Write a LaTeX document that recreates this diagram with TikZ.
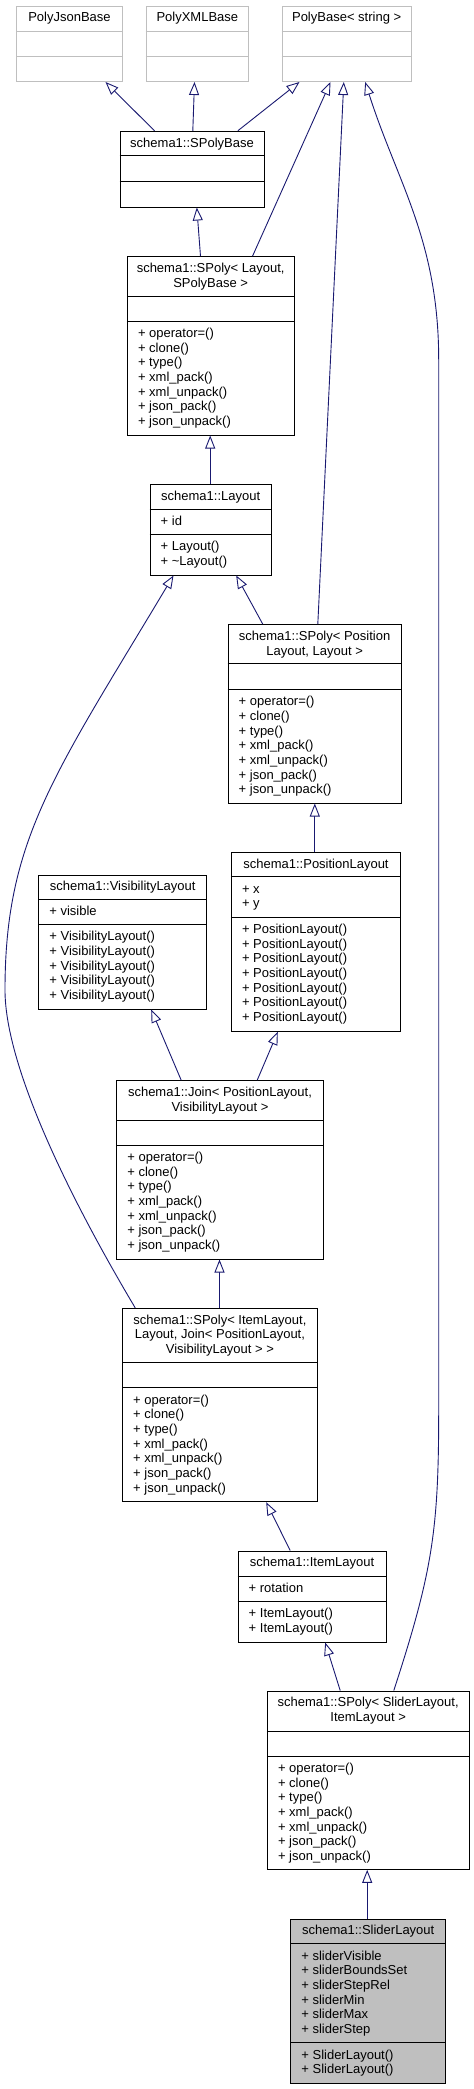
\documentclass[tikz,border=0pt]{standalone}
\usepackage{fontspec}
\setmainfont{Liberation Sans}
\usetikzlibrary{arrows.meta,fit}
\definecolor{edgeblue}{HTML}{191970}
\definecolor{ugray}{HTML}{BFBFBF}
\tikzset{
  clsbox/.style={draw=black, line width=1pt, inner sep=0pt},
  ubox/.style={draw=ugray, line width=1pt, inner sep=0pt},
  hbox/.style={draw=black, fill=ugray, line width=1pt, inner sep=0pt},
  inh/.style={draw=edgeblue, line width=0.9pt, -{Triangle[length=13pt,width=10pt,fill=white]}},
  txt/.style={inner sep=0pt, font=\fontsize{13}{14.7}\selectfont},
}
% #1 name, #2 x1, #3 y1, #4 x2, #5 y2, #6 d1, #7 d2, #8 style, #9 sep colour
\newcommand{\umlbox}[9]{%
  \node[#8, fit={(#2,#3) (#4,#5)}] (#1) {};
  \draw[line width=1pt, draw=#9] ([yshift=-#6]#1.north west) -- ([yshift=-#6]#1.north east);
  \draw[line width=1pt, draw=#9] ([yshift=-#7]#1.north west) -- ([yshift=-#7]#1.north east);
}
\newcommand{\umllines}[4]{\foreach \t [count=\i from 0] in {#4} {\node[txt, anchor=base west] (#1\i) at (#2, #3+15.7+\i*14.7) {\t};}}
\newcommand{\umltitle}[4]{\foreach \t [count=\i from 0] in {#4} {\node[txt, anchor=base] (#1\i) at (#2, #3+15.7+\i*14.7) {\t};}}
\begin{document}
\begin{tikzpicture}[x=1pt, y=-1pt]
\useasboundingbox (0,0) rectangle (474,2089);
% boxes
\umlbox{jsonb}{16.7}{6}{122.3}{81.5}{25.5}{50.5}{ubox}{ugray}
\umlbox{xmlb}{146}{6}{248.7}{81.5}{25.5}{50.5}{ubox}{ugray}
\umlbox{polyb}{282}{6}{411.3}{81.5}{25.5}{50.5}{ubox}{ugray}
\umlbox{spb}{120}{131.3}{264}{207}{25}{50.7}{clsbox}{black}
\umlbox{spl}{127.3}{256.7}{294}{435}{40}{65}{clsbox}{black}
\umlbox{lay}{150}{484.7}{271.3}{575}{25}{50.3}{clsbox}{black}
\umlbox{sppl}{228}{624.7}{401.3}{803}{39.6}{65.3}{clsbox}{black}
\umlbox{visl}{38.7}{875}{206.7}{1009}{25}{50}{clsbox}{black}
\umlbox{posl}{231.3}{852.7}{400.7}{1031.3}{24.6}{65}{clsbox}{black}
\umlbox{join}{116.7}{1080.7}{323.3}{1259}{40}{65}{clsbox}{black}
\umlbox{spil}{122.5}{1308.3}{317.3}{1501.7}{55}{80}{clsbox}{black}
\umlbox{iteml}{238}{1551}{386}{1642}{25.7}{51}{clsbox}{black}
\umlbox{spsl}{267.3}{1691}{469}{1869.3}{40.7}{65.7}{clsbox}{black}
\umlbox{slid}{290.7}{1919}{445.7}{2083.3}{25.3}{124.3}{hbox}{black}
% titles
\umltitle{jsonb-t}{69.5}{6}{PolyJsonBase}
\umltitle{xmlb-t}{197.35}{6}{PolyXMLBase}
\umltitle{polyb-t}{346.65}{6}{PolyBase< string >}
\umltitle{spb-t}{192}{131.3}{schema1::SPolyBase}
\umltitle{spl-t}{210.65}{256.7}{{schema1::SPoly< Layout,},{SPolyBase >}}
\umltitle{lay-t}{210.65}{484.7}{schema1::Layout}
\umltitle{sppl-t}{314.65}{624.7}{{schema1::SPoly< Position},{Layout, Layout >}}
\umltitle{visl-t}{122.7}{875}{schema1::VisibilityLayout}
\umltitle{posl-t}{316}{852.7}{schema1::PositionLayout}
\umltitle{join-t}{220}{1080.7}{{schema1::Join< PositionLayout,},{VisibilityLayout >}}
\umltitle{spil-t}{219.9}{1308.3}{{schema1::SPoly< ItemLayout,},{Layout, Join< PositionLayout,},{VisibilityLayout > >}}
\umltitle{iteml-t}{312}{1551}{schema1::ItemLayout}
\umltitle{spsl-t}{368.15}{1691}{{schema1::SPoly< SliderLayout,},{ItemLayout >}}
\umltitle{slid-t}{368.2}{1919}{schema1::SliderLayout}
% attributes
\umllines{lay-a}{160.5}{509.7}{+ id}
\umllines{visl-a}{49.2}{900}{+ visible}
\umllines{posl-a}{241.8}{877.3}{+ x,+ y}
\umllines{iteml-a}{248.5}{1576.7}{+ rotation}
\umllines{slid-a}{301.2}{1944.3}{+ sliderVisible,+ sliderBoundsSet,+ sliderStepRel,+ sliderMin,+ sliderMax,+ sliderStep}
% methods
\umllines{spl-m}{137.8}{321.7}{+ operator=(),+ clone(),+ type(),+ xml\_pack(),+ xml\_unpack(),+ json\_pack(),+ json\_unpack()}
\umllines{lay-m}{160.5}{535}{+ Layout(),+ \textasciitilde Layout()}
\umllines{sppl-m}{238.5}{690}{+ operator=(),+ clone(),+ type(),+ xml\_pack(),+ xml\_unpack(),+ json\_pack(),+ json\_unpack()}
\umllines{visl-m}{49.2}{925}{+ VisibilityLayout(),+ VisibilityLayout(),+ VisibilityLayout(),+ VisibilityLayout(),+ VisibilityLayout()}
\umllines{posl-m}{241.8}{917.7}{+ PositionLayout(),+ PositionLayout(),+ PositionLayout(),+ PositionLayout(),+ PositionLayout(),+ PositionLayout(),+ PositionLayout()}
\umllines{join-m}{127.2}{1145.7}{+ operator=(),+ clone(),+ type(),+ xml\_pack(),+ xml\_unpack(),+ json\_pack(),+ json\_unpack()}
\umllines{spil-m}{133}{1388.3}{+ operator=(),+ clone(),+ type(),+ xml\_pack(),+ xml\_unpack(),+ json\_pack(),+ json\_unpack()}
\umllines{iteml-m}{248.5}{1602}{+ ItemLayout(),+ ItemLayout()}
\umllines{spsl-m}{277.8}{1756.7}{+ operator=(),+ clone(),+ type(),+ xml\_pack(),+ xml\_unpack(),+ json\_pack(),+ json\_unpack()}
\umllines{slid-m}{301.2}{2043.3}{+ SliderLayout(),+ SliderLayout()}
% inheritance connectors
\draw[inh] ([xshift=35]spb.north west) -- ([xshift=89.3]jsonb.south west);
\draw[inh] ([xshift=73.3]spb.north west) -- ([xshift=49]xmlb.south west);
\draw[inh] ([xshift=118.3]spb.north west) -- ([xshift=18]polyb.south west);
\draw[inh] ([xshift=73.7]spl.north west) -- ([xshift=77.3]spb.south west);
\draw[inh] ([xshift=125.7]spl.north west) -- ([xshift=49]polyb.south west);
\draw[inh] ([xshift=60.7]lay.north west) -- ([xshift=83.4]spl.south west);
\draw[inh] ([xshift=35.3]sppl.north west) -- ([xshift=86.7]lay.south west);
\draw[inh] ([xshift=90.3]sppl.north west) -- ([xshift=62.3]polyb.south west);
\draw[inh] ([xshift=84]posl.north west) -- ([xshift=87.3]sppl.south west);
\draw[inh] ([xshift=65]join.north west) -- ([xshift=113]visl.south west);
\draw[inh] ([xshift=141]join.north west) -- ([xshift=47]posl.south west);
\draw[inh] ([xshift=97.5]spil.north west) -- ([xshift=103.3]join.south west);
\draw[inh] ([xshift=13.2]spil.north west) .. controls (75.7,1208) and (5,1070) .. (5,990) .. controls (5,840) and (54,775) .. ([xshift=24]lay.south west);
\draw[inh] ([xshift=52.7]iteml.north west) -- ([xshift=144.2]spil.south west);
\draw[inh] ([xshift=73.4]spsl.north west) -- ([xshift=87.7]iteml.south west);
\draw[inh] ([xshift=127]spsl.north west) .. controls (432.7,1571) and (438.7,1530) .. (438.7,1410) -- (438.7,360) .. controls (438.7,240) and (397,182) .. ([xshift=83.7]polyb.south west);
\draw[inh] ([xshift=77]slid.north west) -- ([xshift=100.4]spsl.south west);
\end{tikzpicture}
\end{document}
